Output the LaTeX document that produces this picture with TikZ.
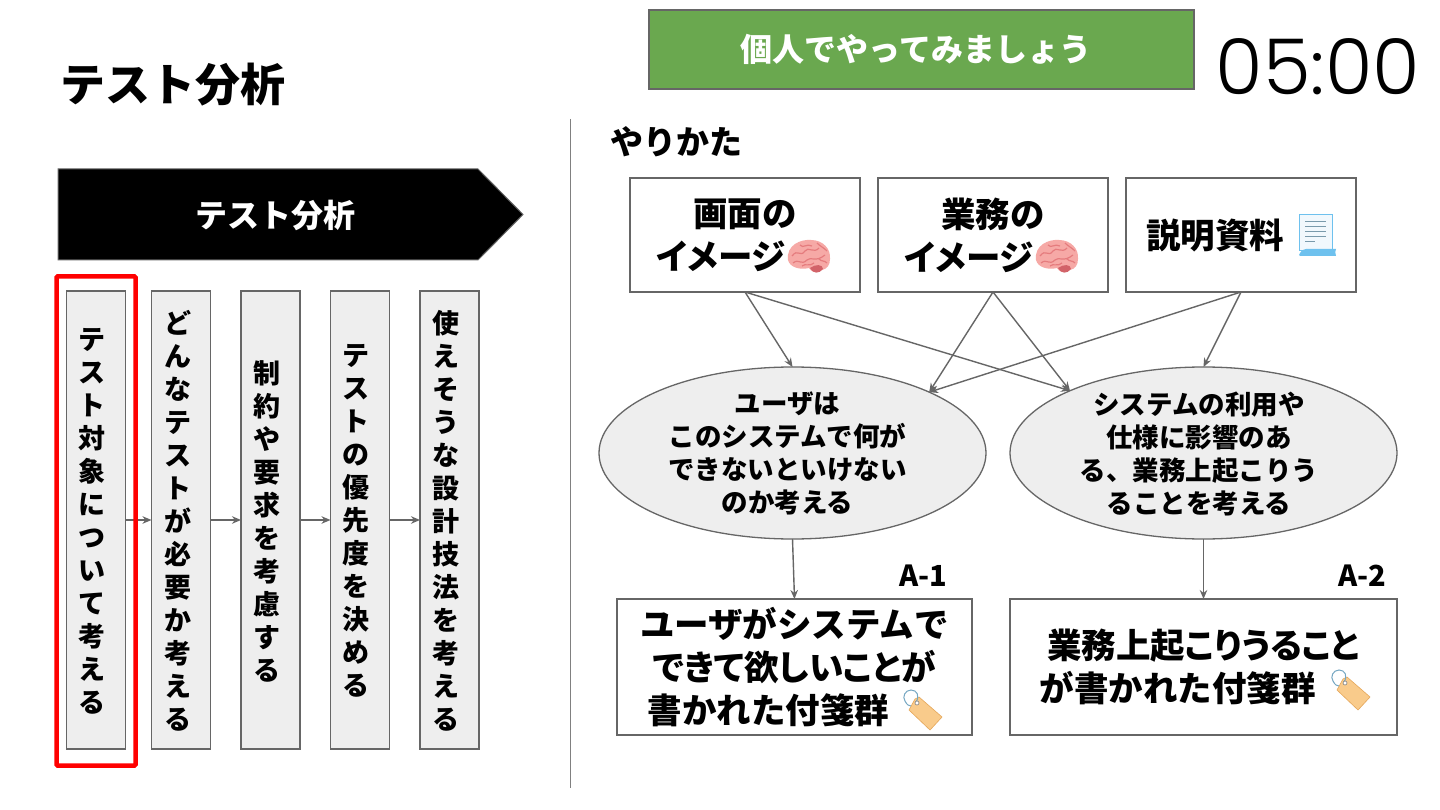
\documentclass[tikz,border=0pt]{standalone}
\usepackage{fontspec}
\usetikzlibrary{arrows.meta,shapes.geometric}
\setmainfont{Liberation Sans}
\newfontfamily\jpb{Noto Sans CJK JP Black}
\newfontfamily\jpp[RawFeature=+palt]{Noto Sans CJK JP Black}
\newfontfamily\timerf{Poppins Light}
\definecolor{edgegray}{HTML}{666666}
\definecolor{panel}{HTML}{EEEEEE}
\definecolor{greenb}{HTML}{6AA84F}
\definecolor{brainp}{HTML}{F6A9A6}
\definecolor{braind}{HTML}{E57C7E}
\definecolor{brainc}{HTML}{C9525A}
\definecolor{tagf}{HTML}{F9CB8B}
\definecolor{tage}{HTML}{E5A75A}
\definecolor{docb}{HTML}{6EC1EE}
\definecolor{docl}{HTML}{F1F8FD}
\tikzset{
 x=1pt,y=-1pt,
 edge/.style={draw=edgegray,line width=1.4pt,-{Stealth[length=9pt,width=7.5pt]}},
 card/.style={draw=edgegray,line width=1.3pt,fill=white,inner sep=0pt,outer sep=0pt,align=center,text=black},
 bigtxt/.style={font=\jpb\fontsize{34.5}{43}\selectfont},
 oval/.style={ellipse,draw=edgegray,line width=1.3pt,fill=panel,inner sep=0pt,outer sep=0pt,minimum width=387pt,minimum height=172pt},
 ovalword/.style={inner sep=0pt,align=center,font=\jpb\fontsize{26.5}{33}\selectfont},
 stepcol/.style={draw=edgegray,line width=1.3pt,fill=panel,inner sep=0pt,outer sep=0pt,minimum width=59pt,minimum height=458pt},
 stepword/.style={inner sep=0pt,align=center,font=\jpb\fontsize{27}{33}\selectfont},
 brainpic/.pic={
   \fill[brainp] (-21,3) .. controls (-23,-12) and (-8,-18) .. (2,-17) .. controls (14,-17) and (22,-8) .. (21,2) .. controls (21,8) and (18,12) .. (13,13) .. controls (8,17) and (2,15) .. (0,11) .. controls (-8,13) and (-19,11) .. (-21,3) -- cycle;
   \fill[brainc!80!brainp] (1,11) .. controls (6,7) and (14,7) .. (14,12) .. controls (10,17) and (4,17) .. (1,11) -- cycle;
   \draw[braind,line width=1.2pt] (-17,-1) .. controls (-11,-9) and (-9,1) .. (-4,-6) .. controls (-1,-11) and (5,-3) .. (10,-9)
     (-16,6) .. controls (-10,1) and (-8,9) .. (-2,3) .. controls (2,-1) and (6,6) .. (16,-2)
     (-9,-12) .. controls (-6,-8) and (-2,-14) .. (3,-11) (-7,9) .. controls (-4,6) and (1,10) .. (5,6) (10,2) .. controls (13,5) and (15,3) .. (18,6) (8,-14) .. controls (12,-10) and (14,-10) .. (18,-6);
 },
 docpic/.pic={
   \fill[docl,draw=docb,line width=1pt] (-17,15) -- (-17,-21) -- (16,-21) -- (16,15) -- cycle;
   \draw[gray!60!docb,line width=.9pt] (-11,-15) -- (10,-15) (-11,-10) -- (10,-10) (-11,-5) -- (10,-5) (-11,0) -- (10,0) (-11,5) -- (-1,5);
   \fill[docb] (-17,19) .. controls (-15,15) and (-14,14) .. (-10,13) -- (20,13) .. controls (19,15) and (19,17) .. (20,20) -- (-16,20) -- cycle;
 },
 tagpic/.pic={
   \fill[tagf,draw=tage,line width=.6pt] (-15,-1) -- (-9,-12) -- (-5,-14) -- (18,6) -- (6,19) -- cycle;
   \draw[docb!60!gray,line width=1pt] (-8,-9) .. controls (-4,-15) and (-7,-21) .. (-13,-21) .. controls (-19,-21) and (-22,-14) .. (-19,-10) .. controls (-17,-6) and (-15,-5) .. (-13,-5);
   \fill[white,draw=gray,line width=.6pt] (-7,-8) circle (2);
 }
}
\begin{document}
\begin{tikzpicture}
\fill[white] (0,0) rectangle (1440,810);
\useasboundingbox (0,0) rectangle (1440,810);
% header
\node[inner sep=0pt,font=\jpb\fontsize{45}{48}\selectfont] (title) at (172.5,85) {テスト分析};
\node[draw=edgegray,line width=1.2pt,fill=greenb,minimum width=545pt,minimum height=79pt,inner sep=0pt,outer sep=0pt] (task) at (921.5,49.5) {};
\node[inner sep=0pt,text=white,font=\jpb\fontsize{32}{36}\selectfont] (tasktxt) at (916,49.5) {個人でやってみましょう};
\node[inner sep=0pt,font=\timerf\fontsize{77}{80}\selectfont] (timer) at (1318,67) {05:00};
\coordinate (divtop) at (570.5,119);
\coordinate (divbot) at (570.5,788);
\draw[draw=gray,line width=1.2pt] (divtop) -- (divbot);
% left
\draw[fill=black,draw=edgegray,line width=1pt] (58,169) -- (478,169) -- (523,214.5) -- (478,260) -- (58,260) -- cycle;
\node[inner sep=0pt,text=white,font=\jpb\fontsize{32}{36}\selectfont] (phase) at (275.5,215) {テスト分析};
\node[stepcol] (s1) at (96,520) {};
\node[stepcol] (s2) at (181,520) {};
\node[stepcol] (s3) at (270.5,520) {};
\node[stepcol] (s4) at (360,520) {};
\node[stepcol] (s5) at (449.5,520) {};
\node[stepword] (t1) at (92,521) {テ\\ス\\ト\\対\\象\\に\\つ\\い\\て\\考\\え\\る};
\node[stepword] (t2) at (177.5,521) {ど\\ん\\な\\テ\\ス\\ト\\が\\必\\要\\か\\考\\え\\る};
\node[stepword] (t3) at (266.5,521) {制\\約\\や\\要\\求\\を\\考\\慮\\す\\る};
\node[stepword] (t4) at (356,521) {テ\\ス\\ト\\の\\優\\先\\度\\を\\決\\め\\る};
\node[stepword] (t5) at (446,521) {使\\え\\そ\\う\\な\\設\\計\\技\\法\\を\\考\\え\\る};
\draw[edge] (s1) -- (s2);
\draw[edge] (s2) -- (s3);
\draw[edge] (s3) -- (s4);
\draw[edge] (s4) -- (s5);
\node[draw=red,line width=4.5pt,rounded corners=1pt,minimum width=79pt,minimum height=489pt,inner sep=0pt] (hl) at (96,521) {};
% right
\node[inner sep=0pt,font=\jpb\fontsize{33}{36}\selectfont] (how) at (676,142) {やりかた};
\node[card,bigtxt,minimum width=230pt,minimum height=114pt] (b1) at (745,235) {画面の\\\jpp イメージ\hspace*{48pt}};
\node[card,bigtxt,minimum width=230pt,minimum height=114pt] (b2) at (993,235) {業務の\\\jpp イメージ\hspace*{48pt}};
\node[card,bigtxt,minimum width=230pt,minimum height=114pt] (b3) at (1241,235) {説明資料\hspace*{52pt}};
\pic at (809,257) {brainpic};
\pic at (1057,257) {brainpic};
\pic at (1316,236) {docpic};
\node[oval] (e1) at (792.5,453) {};
\node[oval] (e2) at (1203.5,453) {};
\node[ovalword] (w1) at (787.5,453.5) {ユーザは\\このシステムで何が\\できないといけない\\のか考える};
\node[ovalword] (w2) at (1199,453.5) {システムの利用や\\仕様に影響のあ\\る、業務上起こりう\\ることを考える};
\node[card,bigtxt,minimum width=355pt,minimum height=136pt] (r1) at (794.5,667) {ユーザがシステムで\\{\jpp できて欲しいことが}\\書かれた付箋群\hspace*{52pt}};
\node[card,bigtxt,minimum width=387pt,minimum height=136pt] (r2) at (1203.5,667) {{\jpp 業務上起こりうること}\\が書かれた付箋群\hspace*{52pt}};
\pic at (924,711) {tagpic};
\pic at (1352,691) {tagpic};
\node[inner sep=0pt,font=\jpb\fontsize{29}{32}\selectfont] (a1) at (923.5,576) {A-1};
\node[inner sep=0pt,font=\jpb\fontsize{29}{32}\selectfont] (a2) at (1362,576) {A-2};
\draw[edge] (b1.south) -- (e1.north);
\draw[edge] (b1.south) -- (e2.155);
\draw[edge] (b2.south) -- (e1.24.5);
\draw[edge] (b2.south) -- (e2.155);
\draw[edge] (b3.south) -- (e1.24.5);
\draw[edge] (b3.south) -- (e2.north);
\draw[edge] (e1.south) -- (r1.north);
\draw[edge] (e2.south) -- (r2.north);
\end{tikzpicture}
\end{document}
